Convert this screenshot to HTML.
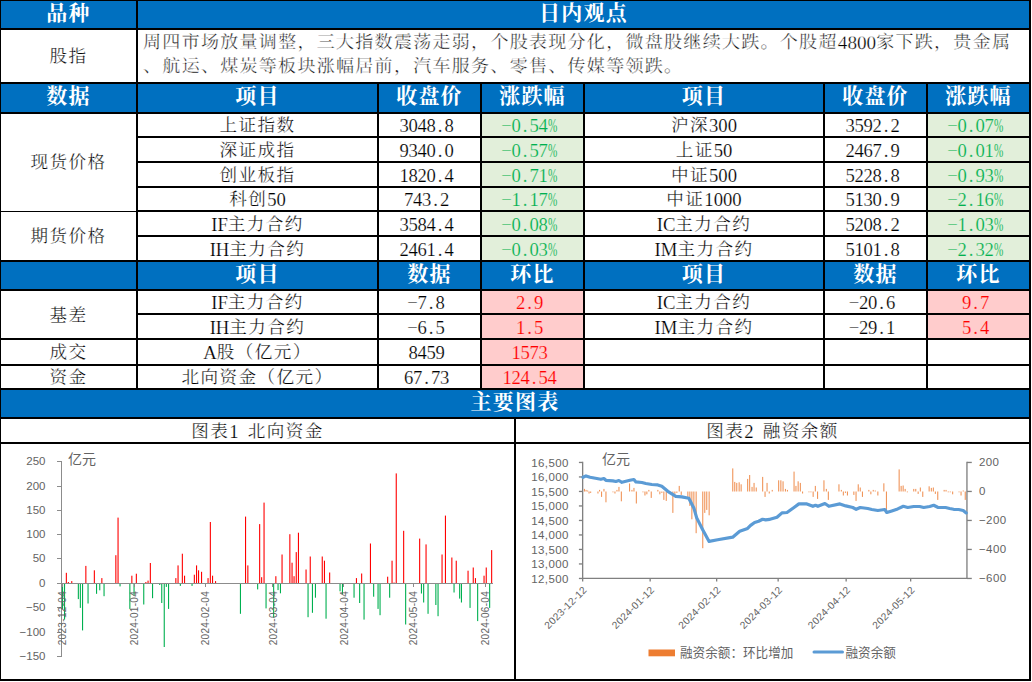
<!DOCTYPE html>
<html lang="zh-CN"><head><meta charset="utf-8"><title>日内观点</title><style>
html,body{margin:0;padding:0;background:#fff}
body{width:1032px;height:682px;position:relative;overflow:hidden;font-family:"Liberation Serif","Noto Serif CJK SC",serif;color:#000}
.b{position:absolute}
.t{position:absolute;display:flex;align-items:center;justify-content:center;font-size:18.67px;white-space:nowrap;line-height:1;-webkit-text-stroke:0.2px #fff}
.t>span{position:relative;top:1.5px}
.c{display:inline-block;position:relative;top:-0.05em;line-height:1;white-space:nowrap;text-align:center;letter-spacing:0.08em;font-family:"Liberation Serif","Noto Serif CJK SC",serif}
.t.h .c{letter-spacing:0.057em}
.p .c{letter-spacing:0.072em}
.t.h{color:#fff;font-weight:bold;font-size:21.33px;-webkit-text-stroke:0}
.t.h>span{top:0.1px}
.t.g{color:#00B050;-webkit-text-stroke:0.2px #E2EFDA}.t.r{color:#FF0000;-webkit-text-stroke:0.2px #FFCCCC}
.t.n span{padding-right:6px;letter-spacing:-0.33px}
.t.n i{display:inline-block;width:9px;text-align:center;font-style:normal;letter-spacing:0}
.t.n i.m{text-indent:-1.2px}
.t.n i.pc{transform:scaleX(0.6);transform-origin:0 50%;text-align:left}
.p{position:absolute;font-size:19.2px;line-height:23.5px;white-space:nowrap;text-rendering:geometricPrecision;-webkit-text-stroke:0.3px #fff}
.ch{position:absolute;left:0;top:0}
.ch text{font-family:"Liberation Sans","Noto Sans CJK SC",sans-serif}
.ax text{font-size:11.5px}
.ax text.xl{font-size:10px;letter-spacing:0.32px}
.ax text.xr{font-size:10.2px;letter-spacing:0.3px}
.ax text.ls{letter-spacing:0.4px}
</style></head><body>
<div class="b" style="left:0px;top:0px;width:1031px;height:28px;background:#0070C0"></div>
<div class="b" style="left:0px;top:84px;width:1031px;height:28px;background:#0070C0"></div>
<div class="b" style="left:0px;top:262px;width:1031px;height:27px;background:#0070C0"></div>
<div class="b" style="left:0px;top:390px;width:1031px;height:27px;background:#0070C0"></div>
<div class="b" style="left:482px;top:114px;width:101px;height:22px;background:#E2EFDA"></div>
<div class="b" style="left:928px;top:114px;width:101px;height:22px;background:#E2EFDA"></div>
<div class="b" style="left:482px;top:138px;width:101px;height:23px;background:#E2EFDA"></div>
<div class="b" style="left:928px;top:138px;width:101px;height:23px;background:#E2EFDA"></div>
<div class="b" style="left:482px;top:163px;width:101px;height:23px;background:#E2EFDA"></div>
<div class="b" style="left:928px;top:163px;width:101px;height:23px;background:#E2EFDA"></div>
<div class="b" style="left:482px;top:188px;width:101px;height:22px;background:#E2EFDA"></div>
<div class="b" style="left:928px;top:188px;width:101px;height:22px;background:#E2EFDA"></div>
<div class="b" style="left:482px;top:212px;width:101px;height:23px;background:#E2EFDA"></div>
<div class="b" style="left:928px;top:212px;width:101px;height:23px;background:#E2EFDA"></div>
<div class="b" style="left:482px;top:237px;width:101px;height:23px;background:#E2EFDA"></div>
<div class="b" style="left:928px;top:237px;width:101px;height:23px;background:#E2EFDA"></div>
<div class="b" style="left:482px;top:291px;width:101px;height:22px;background:#FFCCCC"></div>
<div class="b" style="left:482px;top:315px;width:101px;height:23px;background:#FFCCCC"></div>
<div class="b" style="left:482px;top:340px;width:101px;height:24px;background:#FFCCCC"></div>
<div class="b" style="left:482px;top:366px;width:101px;height:22px;background:#FFCCCC"></div>
<div class="b" style="left:928px;top:291px;width:101px;height:22px;background:#FFCCCC"></div>
<div class="b" style="left:928px;top:315px;width:101px;height:23px;background:#FFCCCC"></div>
<div class="b" style="left:0px;top:0px;width:1031px;height:1px;background:#000"></div>
<div class="b" style="left:0px;top:0px;width:1px;height:681px;background:#000"></div>
<div class="b" style="left:1029px;top:0px;width:2px;height:681px;background:#000"></div>
<div class="b" style="left:0px;top:28px;width:1031px;height:2px;background:#000"></div>
<div class="b" style="left:0px;top:82px;width:1031px;height:2px;background:#000"></div>
<div class="b" style="left:0px;top:112px;width:1031px;height:2px;background:#000"></div>
<div class="b" style="left:0px;top:260px;width:1031px;height:2px;background:#000"></div>
<div class="b" style="left:0px;top:289px;width:1031px;height:2px;background:#000"></div>
<div class="b" style="left:0px;top:338px;width:1031px;height:2px;background:#000"></div>
<div class="b" style="left:0px;top:364px;width:1031px;height:2px;background:#000"></div>
<div class="b" style="left:0px;top:388px;width:1031px;height:2px;background:#000"></div>
<div class="b" style="left:0px;top:417px;width:1031px;height:2px;background:#000"></div>
<div class="b" style="left:0px;top:442px;width:1031px;height:2px;background:#000"></div>
<div class="b" style="left:0px;top:679px;width:1031px;height:2px;background:#000"></div>
<div class="b" style="left:136px;top:136px;width:895px;height:2px;background:#000"></div>
<div class="b" style="left:136px;top:161px;width:895px;height:2px;background:#000"></div>
<div class="b" style="left:136px;top:186px;width:895px;height:2px;background:#000"></div>
<div class="b" style="left:136px;top:235px;width:895px;height:2px;background:#000"></div>
<div class="b" style="left:136px;top:313px;width:895px;height:2px;background:#000"></div>
<div class="b" style="left:0px;top:211px;width:136px;height:1px;background:#000"></div>
<div class="b" style="left:136px;top:210px;width:895px;height:2px;background:#000"></div>
<div class="b" style="left:136px;top:0px;width:2px;height:390px;background:#000"></div>
<div class="b" style="left:377px;top:82px;width:2px;height:308px;background:#000"></div>
<div class="b" style="left:480px;top:82px;width:2px;height:308px;background:#000"></div>
<div class="b" style="left:583px;top:82px;width:2px;height:308px;background:#000"></div>
<div class="b" style="left:823px;top:82px;width:2px;height:308px;background:#000"></div>
<div class="b" style="left:926px;top:82px;width:2px;height:308px;background:#000"></div>
<div class="b" style="left:514px;top:417px;width:2px;height:264px;background:#000"></div>
<div class="t h" style="left:1px;top:1px;width:135px;height:27px"><span><span class="c" style="width:44.40px;font-size:21.00px">品种</span></span></div>
<div class="t h" style="left:138px;top:1px;width:891px;height:27px"><span><span class="c" style="width:88.80px;font-size:21.00px">日内观点</span></span></div>
<div class="t " style="left:1px;top:30px;width:135px;height:52px"><span><span class="c" style="width:38.00px;font-size:17.60px">股指</span></span></div>
<div class="p" style="left:143px;top:32px;width:880px"><span class="c" style="width:694.80px;font-size:18.00px">周四市场放量调整，三大指数震荡走弱，个股表现分化，微盘股继续大跌。个股超</span>4800<span class="c" style="width:135.10px;font-size:18.00px">家下跌，贵金属</span><br><span class="c" style="width:540.40px;font-size:18.00px">、航运、煤炭等板块涨幅居前，汽车服务、零售、传媒等领跌。</span></div>
<div class="t h" style="left:1px;top:84px;width:135px;height:28px"><span><span class="c" style="width:44.40px;font-size:21.00px">数据</span></span></div>
<div class="t h" style="left:138px;top:84px;width:239px;height:28px"><span><span class="c" style="width:44.40px;font-size:21.00px">项目</span></span></div>
<div class="t h" style="left:379px;top:84px;width:101px;height:28px"><span><span class="c" style="width:66.60px;font-size:21.00px">收盘价</span></span></div>
<div class="t h" style="left:482px;top:84px;width:101px;height:28px"><span><span class="c" style="width:66.60px;font-size:21.00px">涨跌幅</span></span></div>
<div class="t h" style="left:585px;top:84px;width:238px;height:28px"><span><span class="c" style="width:44.40px;font-size:21.00px">项目</span></span></div>
<div class="t h" style="left:825px;top:84px;width:101px;height:28px"><span><span class="c" style="width:66.60px;font-size:21.00px">收盘价</span></span></div>
<div class="t h" style="left:928px;top:84px;width:101px;height:28px"><span><span class="c" style="width:66.60px;font-size:21.00px">涨跌幅</span></span></div>
<div class="t h" style="left:138px;top:262px;width:239px;height:27px"><span><span class="c" style="width:44.40px;font-size:21.00px">项目</span></span></div>
<div class="t h" style="left:379px;top:262px;width:101px;height:27px"><span><span class="c" style="width:44.40px;font-size:21.00px">数据</span></span></div>
<div class="t h" style="left:482px;top:262px;width:101px;height:27px"><span><span class="c" style="width:44.40px;font-size:21.00px">环比</span></span></div>
<div class="t h" style="left:585px;top:262px;width:238px;height:27px"><span><span class="c" style="width:44.40px;font-size:21.00px">项目</span></span></div>
<div class="t h" style="left:825px;top:262px;width:101px;height:27px"><span><span class="c" style="width:44.40px;font-size:21.00px">数据</span></span></div>
<div class="t h" style="left:928px;top:262px;width:101px;height:27px"><span><span class="c" style="width:44.40px;font-size:21.00px">环比</span></span></div>
<div class="t " style="left:1px;top:114px;width:135px;height:96px"><span><span class="c" style="width:76.00px;font-size:17.60px">现货价格</span></span></div>
<div class="t " style="left:1px;top:212px;width:135px;height:48px"><span><span class="c" style="width:76.00px;font-size:17.60px">期货价格</span></span></div>
<div class="t " style="left:1px;top:291px;width:135px;height:47px"><span><span class="c" style="width:38.00px;font-size:17.60px">基差</span></span></div>
<div class="t " style="left:1px;top:340px;width:135px;height:24px"><span><span class="c" style="width:38.00px;font-size:17.60px">成交</span></span></div>
<div class="t " style="left:1px;top:366px;width:135px;height:22px"><span><span class="c" style="width:38.00px;font-size:17.60px">资金</span></span></div>
<div class="t " style="left:138px;top:114px;width:239px;height:22px"><span><span class="c" style="width:76.00px;font-size:17.60px">上证指数</span></span></div>
<div class="t n" style="left:379px;top:114px;width:101px;height:22px"><span>3048<i class="d">.</i>8</span></div>
<div class="t n g" style="left:482px;top:114px;width:101px;height:22px"><span><i class="m">−</i>0<i class="d">.</i>54<i class="pc">%</i></span></div>
<div class="t " style="left:585px;top:114px;width:238px;height:22px"><span><span class="c" style="width:38.00px;font-size:17.60px">沪深</span>300</span></div>
<div class="t n" style="left:825px;top:114px;width:101px;height:22px"><span>3592<i class="d">.</i>2</span></div>
<div class="t n g" style="left:928px;top:114px;width:101px;height:22px"><span><i class="m">−</i>0<i class="d">.</i>07<i class="pc">%</i></span></div>
<div class="t " style="left:138px;top:138px;width:239px;height:23px"><span><span class="c" style="width:76.00px;font-size:17.60px">深证成指</span></span></div>
<div class="t n" style="left:379px;top:138px;width:101px;height:23px"><span>9340<i class="d">.</i>0</span></div>
<div class="t n g" style="left:482px;top:138px;width:101px;height:23px"><span><i class="m">−</i>0<i class="d">.</i>57<i class="pc">%</i></span></div>
<div class="t " style="left:585px;top:138px;width:238px;height:23px"><span><span class="c" style="width:38.00px;font-size:17.60px">上证</span>50</span></div>
<div class="t n" style="left:825px;top:138px;width:101px;height:23px"><span>2467<i class="d">.</i>9</span></div>
<div class="t n g" style="left:928px;top:138px;width:101px;height:23px"><span><i class="m">−</i>0<i class="d">.</i>01<i class="pc">%</i></span></div>
<div class="t " style="left:138px;top:163px;width:239px;height:23px"><span><span class="c" style="width:76.00px;font-size:17.60px">创业板指</span></span></div>
<div class="t n" style="left:379px;top:163px;width:101px;height:23px"><span>1820<i class="d">.</i>4</span></div>
<div class="t n g" style="left:482px;top:163px;width:101px;height:23px"><span><i class="m">−</i>0<i class="d">.</i>71<i class="pc">%</i></span></div>
<div class="t " style="left:585px;top:163px;width:238px;height:23px"><span><span class="c" style="width:38.00px;font-size:17.60px">中证</span>500</span></div>
<div class="t n" style="left:825px;top:163px;width:101px;height:23px"><span>5228<i class="d">.</i>8</span></div>
<div class="t n g" style="left:928px;top:163px;width:101px;height:23px"><span><i class="m">−</i>0<i class="d">.</i>93<i class="pc">%</i></span></div>
<div class="t " style="left:138px;top:188px;width:239px;height:22px"><span><span class="c" style="width:38.00px;font-size:17.60px">科创</span>50</span></div>
<div class="t n" style="left:379px;top:188px;width:101px;height:22px"><span>743<i class="d">.</i>2</span></div>
<div class="t n g" style="left:482px;top:188px;width:101px;height:22px"><span><i class="m">−</i>1<i class="d">.</i>17<i class="pc">%</i></span></div>
<div class="t " style="left:585px;top:188px;width:238px;height:22px"><span><span class="c" style="width:38.00px;font-size:17.60px">中证</span>1000</span></div>
<div class="t n" style="left:825px;top:188px;width:101px;height:22px"><span>5130<i class="d">.</i>9</span></div>
<div class="t n g" style="left:928px;top:188px;width:101px;height:22px"><span><i class="m">−</i>2<i class="d">.</i>16<i class="pc">%</i></span></div>
<div class="t " style="left:138px;top:212px;width:239px;height:23px"><span>IF<span class="c" style="width:76.00px;font-size:17.60px">主力合约</span></span></div>
<div class="t n" style="left:379px;top:212px;width:101px;height:23px"><span>3584<i class="d">.</i>4</span></div>
<div class="t n g" style="left:482px;top:212px;width:101px;height:23px"><span><i class="m">−</i>0<i class="d">.</i>08<i class="pc">%</i></span></div>
<div class="t " style="left:585px;top:212px;width:238px;height:23px"><span>IC<span class="c" style="width:76.00px;font-size:17.60px">主力合约</span></span></div>
<div class="t n" style="left:825px;top:212px;width:101px;height:23px"><span>5208<i class="d">.</i>2</span></div>
<div class="t n g" style="left:928px;top:212px;width:101px;height:23px"><span><i class="m">−</i>1<i class="d">.</i>03<i class="pc">%</i></span></div>
<div class="t " style="left:138px;top:237px;width:239px;height:23px"><span>IH<span class="c" style="width:76.00px;font-size:17.60px">主力合约</span></span></div>
<div class="t n" style="left:379px;top:237px;width:101px;height:23px"><span>2461<i class="d">.</i>4</span></div>
<div class="t n g" style="left:482px;top:237px;width:101px;height:23px"><span><i class="m">−</i>0<i class="d">.</i>03<i class="pc">%</i></span></div>
<div class="t " style="left:585px;top:237px;width:238px;height:23px"><span>IM<span class="c" style="width:76.00px;font-size:17.60px">主力合约</span></span></div>
<div class="t n" style="left:825px;top:237px;width:101px;height:23px"><span>5101<i class="d">.</i>8</span></div>
<div class="t n g" style="left:928px;top:237px;width:101px;height:23px"><span><i class="m">−</i>2<i class="d">.</i>32<i class="pc">%</i></span></div>
<div class="t " style="left:138px;top:291px;width:239px;height:22px"><span>IF<span class="c" style="width:76.00px;font-size:17.60px">主力合约</span></span></div>
<div class="t n" style="left:379px;top:291px;width:101px;height:22px"><span><i class="m">−</i>7<i class="d">.</i>8</span></div>
<div class="t n r" style="left:482px;top:291px;width:101px;height:22px"><span>2<i class="d">.</i>9</span></div>
<div class="t " style="left:585px;top:291px;width:238px;height:22px"><span>IC<span class="c" style="width:76.00px;font-size:17.60px">主力合约</span></span></div>
<div class="t n" style="left:825px;top:291px;width:101px;height:22px"><span><i class="m">−</i>20<i class="d">.</i>6</span></div>
<div class="t n r" style="left:928px;top:291px;width:101px;height:22px"><span>9<i class="d">.</i>7</span></div>
<div class="t " style="left:138px;top:315px;width:239px;height:23px"><span>IH<span class="c" style="width:76.00px;font-size:17.60px">主力合约</span></span></div>
<div class="t n" style="left:379px;top:315px;width:101px;height:23px"><span><i class="m">−</i>6<i class="d">.</i>5</span></div>
<div class="t n r" style="left:482px;top:315px;width:101px;height:23px"><span>1<i class="d">.</i>5</span></div>
<div class="t " style="left:585px;top:315px;width:238px;height:23px"><span>IM<span class="c" style="width:76.00px;font-size:17.60px">主力合约</span></span></div>
<div class="t n" style="left:825px;top:315px;width:101px;height:23px"><span><i class="m">−</i>29<i class="d">.</i>1</span></div>
<div class="t n r" style="left:928px;top:315px;width:101px;height:23px"><span>5<i class="d">.</i>4</span></div>
<div class="t " style="left:138px;top:340px;width:239px;height:24px"><span>A<span class="c" style="width:95.00px;font-size:17.60px">股（亿元）</span></span></div>
<div class="t n" style="left:379px;top:340px;width:101px;height:24px"><span>8459</span></div>
<div class="t n r" style="left:482px;top:340px;width:101px;height:24px"><span>1573</span></div>
<div class="t " style="left:138px;top:366px;width:239px;height:22px"><span><span class="c" style="width:152.00px;font-size:17.60px">北向资金（亿元）</span></span></div>
<div class="t n" style="left:379px;top:366px;width:101px;height:22px"><span>67<i class="d">.</i>73</span></div>
<div class="t n r" style="left:482px;top:366px;width:101px;height:22px"><span>124<i class="d">.</i>54</span></div>
<div class="t h" style="left:1px;top:390px;width:1028px;height:27px"><span><span class="c" style="width:88.80px;font-size:21.00px">主要图表</span></span></div>
<div class="t ti" style="left:1px;top:419px;width:513px;height:23px"><span><span class="c" style="width:38.00px;font-size:17.60px">图表</span>1&ensp;<span class="c" style="width:76.00px;font-size:17.60px">北向资金</span></span></div>
<div class="t ti" style="left:516px;top:419px;width:513px;height:23px"><span><span class="c" style="width:38.00px;font-size:17.60px">图表</span>2&ensp;<span class="c" style="width:76.00px;font-size:17.60px">融资余额</span></span></div>
<svg class="ch" width="1032" height="682" viewBox="0 0 1032 682">
<g fill="#ff0000">
<rect x="65.8" y="572.8" width="1.1" height="10.7"/>
<rect x="67.8" y="582.0" width="1.1" height="1.5"/>
<rect x="71.2" y="581.1" width="1.1" height="2.4"/>
<rect x="85.3" y="565.9" width="1.1" height="17.6"/>
<rect x="93.8" y="570.3" width="1.1" height="13.2"/>
<rect x="101.3" y="578.1" width="1.1" height="5.4"/>
<rect x="115.3" y="555.2" width="1.1" height="28.3"/>
<rect x="117.5" y="517.6" width="1.1" height="65.9"/>
<rect x="131.3" y="575.7" width="1.1" height="7.8"/>
<rect x="135.8" y="573.7" width="1.1" height="9.8"/>
<rect x="145.3" y="582.0" width="1.1" height="1.5"/>
<rect x="147.5" y="580.6" width="1.1" height="2.9"/>
<rect x="149.8" y="563.0" width="1.1" height="20.5"/>
<rect x="175.3" y="578.1" width="1.1" height="5.4"/>
<rect x="177.5" y="565.4" width="1.1" height="18.1"/>
<rect x="181.8" y="553.7" width="1.1" height="29.8"/>
<rect x="184.0" y="575.7" width="1.1" height="7.8"/>
<rect x="193.8" y="574.7" width="1.1" height="8.8"/>
<rect x="196.0" y="565.4" width="1.1" height="18.1"/>
<rect x="198.0" y="570.3" width="1.1" height="13.2"/>
<rect x="201.0" y="571.8" width="1.1" height="11.7"/>
<rect x="207.5" y="578.1" width="1.1" height="5.4"/>
<rect x="209.8" y="522.0" width="1.1" height="61.5"/>
<rect x="212.0" y="575.7" width="1.1" height="7.8"/>
<rect x="215.0" y="581.1" width="1.1" height="2.4"/>
<rect x="245.0" y="516.6" width="1.1" height="66.9"/>
<rect x="247.3" y="565.4" width="1.1" height="18.1"/>
<rect x="259.1" y="524.1" width="1.1" height="59.4"/>
<rect x="261.1" y="577.2" width="1.1" height="6.3"/>
<rect x="263.5" y="502.6" width="1.1" height="80.9"/>
<rect x="275.3" y="576.2" width="1.1" height="7.3"/>
<rect x="281.5" y="554.5" width="1.1" height="29.0"/>
<rect x="289.3" y="534.2" width="1.1" height="49.3"/>
<rect x="291.5" y="562.7" width="1.1" height="20.8"/>
<rect x="293.5" y="576.2" width="1.1" height="7.3"/>
<rect x="295.7" y="552.1" width="1.1" height="31.4"/>
<rect x="297.9" y="532.7" width="1.1" height="50.8"/>
<rect x="305.5" y="569.5" width="1.1" height="14.0"/>
<rect x="309.7" y="556.5" width="1.1" height="27.0"/>
<rect x="321.7" y="556.5" width="1.1" height="27.0"/>
<rect x="323.9" y="560.7" width="1.1" height="22.8"/>
<rect x="329.1" y="572.5" width="1.1" height="11.0"/>
<rect x="355.9" y="578.1" width="1.1" height="5.4"/>
<rect x="361.1" y="573.5" width="1.1" height="10.0"/>
<rect x="369.9" y="543.5" width="1.1" height="40.0"/>
<rect x="387.1" y="576.7" width="1.1" height="6.8"/>
<rect x="391.5" y="560.7" width="1.1" height="22.8"/>
<rect x="393.5" y="582.5" width="1.1" height="1.0"/>
<rect x="395.7" y="473.4" width="1.1" height="110.1"/>
<rect x="403.1" y="530.8" width="1.1" height="52.7"/>
<rect x="419.1" y="538.6" width="1.1" height="44.9"/>
<rect x="425.5" y="544.4" width="1.1" height="39.1"/>
<rect x="441.5" y="554.5" width="1.1" height="29.0"/>
<rect x="444.9" y="515.6" width="1.1" height="67.9"/>
<rect x="451.3" y="557.5" width="1.1" height="26.0"/>
<rect x="455.7" y="560.7" width="1.1" height="22.8"/>
<rect x="467.5" y="570.7" width="1.1" height="12.8"/>
<rect x="472.7" y="567.5" width="1.1" height="16.0"/>
<rect x="474.9" y="578.1" width="1.1" height="5.4"/>
<rect x="483.5" y="575.7" width="1.1" height="7.8"/>
<rect x="485.7" y="567.5" width="1.1" height="16.0"/>
<rect x="491.1" y="550.1" width="1.1" height="33.4"/>
</g><g fill="#00b050">
<rect x="62.0" y="583.5" width="1.1" height="25.9"/>
<rect x="64.0" y="583.5" width="1.1" height="36.1"/>
<rect x="77.8" y="583.5" width="1.1" height="15.6"/>
<rect x="79.8" y="583.5" width="1.1" height="24.4"/>
<rect x="82.0" y="583.5" width="1.1" height="46.9"/>
<rect x="87.5" y="583.5" width="1.1" height="20.0"/>
<rect x="96.0" y="583.5" width="1.1" height="10.3"/>
<rect x="99.2" y="583.5" width="1.1" height="6.8"/>
<rect x="103.5" y="583.5" width="1.1" height="12.7"/>
<rect x="119.5" y="583.5" width="1.1" height="2.9"/>
<rect x="129.3" y="583.5" width="1.1" height="25.4"/>
<rect x="133.5" y="583.5" width="1.1" height="12.2"/>
<rect x="143.2" y="583.5" width="1.1" height="21.0"/>
<rect x="152.0" y="583.5" width="1.1" height="14.7"/>
<rect x="159.2" y="583.5" width="1.1" height="1.5"/>
<rect x="161.2" y="583.5" width="1.1" height="19.5"/>
<rect x="163.7" y="583.5" width="1.1" height="63.5"/>
<rect x="165.8" y="583.5" width="1.1" height="3.4"/>
<rect x="168.0" y="583.5" width="1.1" height="25.4"/>
<rect x="179.8" y="583.5" width="1.1" height="2.4"/>
<rect x="191.5" y="583.5" width="1.1" height="2.4"/>
<rect x="239.9" y="583.5" width="1.1" height="30.3"/>
<rect x="257.1" y="583.5" width="1.1" height="5.9"/>
<rect x="265.5" y="583.5" width="1.1" height="24.9"/>
<rect x="273.1" y="583.5" width="1.1" height="34.2"/>
<rect x="277.5" y="583.5" width="1.1" height="6.6"/>
<rect x="279.9" y="583.5" width="1.1" height="9.8"/>
<rect x="307.5" y="583.5" width="1.1" height="33.7"/>
<rect x="311.9" y="583.5" width="1.1" height="29.3"/>
<rect x="314.9" y="583.5" width="1.1" height="14.2"/>
<rect x="325.5" y="583.5" width="1.1" height="35.2"/>
<rect x="339.5" y="583.5" width="1.1" height="7.8"/>
<rect x="341.9" y="583.5" width="1.1" height="10.7"/>
<rect x="353.5" y="583.5" width="1.1" height="14.2"/>
<rect x="359.1" y="583.5" width="1.1" height="19.5"/>
<rect x="363.5" y="583.5" width="1.1" height="36.1"/>
<rect x="373.1" y="583.5" width="1.1" height="13.2"/>
<rect x="377.5" y="583.5" width="1.1" height="25.4"/>
<rect x="379.5" y="583.5" width="1.1" height="31.7"/>
<rect x="389.1" y="583.5" width="1.1" height="14.2"/>
<rect x="405.1" y="583.5" width="1.1" height="41.0"/>
<rect x="420.9" y="583.5" width="1.1" height="10.0"/>
<rect x="423.1" y="583.5" width="1.1" height="19.0"/>
<rect x="427.5" y="583.5" width="1.1" height="30.3"/>
<rect x="435.3" y="583.5" width="1.1" height="21.5"/>
<rect x="437.5" y="583.5" width="1.1" height="32.7"/>
<rect x="453.5" y="583.5" width="1.1" height="9.0"/>
<rect x="459.1" y="583.5" width="1.1" height="15.1"/>
<rect x="460.9" y="583.5" width="1.1" height="19.0"/>
<rect x="469.5" y="583.5" width="1.1" height="24.4"/>
<rect x="477.1" y="583.5" width="1.1" height="37.6"/>
<rect x="489.1" y="583.5" width="1.1" height="24.4"/>
</g>
<g stroke="#8c8c8c" stroke-width="1" fill="none" shape-rendering="crispEdges">
<path d="M61.5 461V657M61 583.5H493"/>
<path d="M57 461.5H61"/>
<path d="M57 486.5H61"/>
<path d="M57 510.5H61"/>
<path d="M57 534.5H61"/>
<path d="M57 558.5H61"/>
<path d="M57 583.5H61"/>
<path d="M57 607.5H61"/>
<path d="M57 632.5H61"/>
<path d="M57 656.5H61"/>
<path d="M62.5 584V587"/>
<path d="M134.5 584V587"/>
<path d="M205.5 584V587"/>
<path d="M272.5 584V587"/>
<path d="M343.5 584V587"/>
<path d="M413.5 584V587"/>
<path d="M485.5 584V587"/>
</g>
<g class="ax" fill="#636363" text-anchor="end">
<text x="45.5" y="465.2">250</text>
<text x="45.5" y="490.2">200</text>
<text x="45.5" y="514.2">150</text>
<text x="45.5" y="538.2">100</text>
<text x="45.5" y="562.2">50</text>
<text x="45.5" y="587.2">0</text>
<text x="45.5" y="611.2">−50</text>
<text x="45.5" y="636.2">−100</text>
<text x="45.5" y="660.2">−150</text>
</g><g class="ax" fill="#636363">
<text class="xl" transform="translate(65.9,645.3) rotate(-90)">2023-12-04</text>
<text class="xl" transform="translate(137.9,645.3) rotate(-90)">2024-01-04</text>
<text class="xl" transform="translate(208.9,645.3) rotate(-90)">2024-02-04</text>
<text class="xl" transform="translate(276.9,645.3) rotate(-90)">2024-03-04</text>
<text class="xl" transform="translate(347.9,645.3) rotate(-90)">2024-04-04</text>
<text class="xl" transform="translate(416.9,645.3) rotate(-90)">2024-05-04</text>
<text class="xl" transform="translate(488.9,645.3) rotate(-90)">2024-06-04</text>
</g>
<text x="68.0" y="464.0" font-size="14.0" fill="#636363">亿元</text>
<g fill="#f0955a">
<rect x="583.9" y="488.9" width="1.1" height="2.6"/>
<rect x="585.5" y="489.9" width="1.1" height="1.6"/>
<rect x="587.1" y="490.5" width="1.1" height="1.0"/>
<rect x="588.5" y="491.5" width="1.1" height="2.0"/>
<rect x="590.1" y="491.5" width="1.1" height="1.4"/>
<rect x="597.4" y="491.5" width="1.1" height="2.0"/>
<rect x="599.0" y="489.9" width="1.1" height="1.6"/>
<rect x="601.0" y="491.5" width="1.1" height="5.4"/>
<rect x="603.4" y="488.9" width="1.1" height="2.6"/>
<rect x="605.4" y="491.5" width="1.1" height="10.8"/>
<rect x="612.4" y="491.5" width="1.1" height="0.8"/>
<rect x="614.4" y="491.5" width="1.1" height="2.0"/>
<rect x="616.4" y="489.9" width="1.1" height="1.6"/>
<rect x="618.4" y="486.9" width="1.1" height="4.6"/>
<rect x="620.8" y="491.5" width="1.1" height="9.8"/>
<rect x="629.0" y="483.5" width="1.1" height="8.0"/>
<rect x="631.4" y="489.9" width="1.1" height="1.6"/>
<rect x="633.4" y="487.9" width="1.1" height="3.6"/>
<rect x="635.8" y="491.5" width="1.1" height="12.0"/>
<rect x="642.4" y="491.5" width="1.1" height="0.8"/>
<rect x="644.4" y="491.5" width="1.1" height="4.0"/>
<rect x="646.3" y="491.5" width="1.1" height="2.8"/>
<rect x="648.3" y="489.9" width="1.1" height="1.6"/>
<rect x="650.7" y="491.5" width="1.1" height="6.4"/>
<rect x="657.3" y="489.9" width="1.1" height="1.6"/>
<rect x="659.3" y="491.5" width="1.1" height="2.8"/>
<rect x="661.3" y="491.5" width="1.1" height="1.4"/>
<rect x="663.3" y="491.5" width="1.1" height="8.4"/>
<rect x="665.7" y="491.5" width="1.1" height="9.4"/>
<rect x="672.3" y="491.5" width="1.1" height="21.4"/>
<rect x="674.3" y="491.5" width="1.1" height="2.4"/>
<rect x="676.3" y="491.5" width="1.1" height="1.4"/>
<rect x="678.7" y="485.9" width="1.1" height="5.6"/>
<rect x="680.7" y="491.5" width="1.1" height="3.4"/>
<rect x="687.3" y="491.5" width="1.1" height="5.4"/>
<rect x="689.3" y="491.5" width="1.1" height="14.4"/>
<rect x="691.3" y="491.5" width="1.1" height="27.8"/>
<rect x="693.3" y="491.5" width="1.1" height="18.4"/>
<rect x="695.6" y="491.5" width="1.1" height="41.7"/>
<rect x="702.2" y="491.5" width="1.1" height="56.7"/>
<rect x="704.2" y="491.5" width="1.1" height="21.4"/>
<rect x="706.2" y="491.5" width="1.1" height="18.4"/>
<rect x="708.6" y="491.5" width="1.1" height="23.8"/>
<rect x="732.2" y="468.4" width="1.1" height="23.1"/>
<rect x="734.2" y="481.9" width="1.1" height="9.6"/>
<rect x="736.2" y="482.9" width="1.1" height="8.6"/>
<rect x="738.6" y="482.3" width="1.1" height="9.2"/>
<rect x="740.6" y="484.3" width="1.1" height="7.2"/>
<rect x="747.1" y="478.9" width="1.1" height="12.6"/>
<rect x="749.1" y="475.0" width="1.1" height="16.5"/>
<rect x="751.5" y="486.9" width="1.1" height="4.6"/>
<rect x="753.5" y="482.9" width="1.1" height="8.6"/>
<rect x="755.7" y="487.5" width="1.1" height="4.0"/>
<rect x="762.1" y="476.9" width="1.1" height="14.6"/>
<rect x="764.5" y="491.5" width="1.1" height="5.4"/>
<rect x="766.5" y="482.9" width="1.1" height="8.6"/>
<rect x="768.7" y="491.5" width="1.1" height="2.0"/>
<rect x="771.7" y="489.9" width="1.1" height="1.6"/>
<rect x="778.1" y="480.3" width="1.1" height="11.2"/>
<rect x="780.3" y="480.3" width="1.1" height="11.2"/>
<rect x="782.5" y="481.3" width="1.1" height="10.2"/>
<rect x="784.9" y="488.9" width="1.1" height="2.6"/>
<rect x="786.9" y="489.9" width="1.1" height="1.6"/>
<rect x="793.5" y="471.6" width="1.1" height="19.9"/>
<rect x="795.4" y="485.9" width="1.1" height="5.6"/>
<rect x="797.6" y="481.3" width="1.1" height="10.2"/>
<rect x="799.8" y="482.9" width="1.1" height="8.6"/>
<rect x="802.0" y="491.5" width="1.1" height="2.0"/>
<rect x="808.4" y="491.5" width="1.1" height="0.8"/>
<rect x="810.4" y="491.5" width="1.1" height="0.8"/>
<rect x="812.6" y="491.5" width="1.1" height="5.4"/>
<rect x="814.8" y="485.9" width="1.1" height="5.6"/>
<rect x="817.0" y="491.5" width="1.1" height="7.4"/>
<rect x="823.4" y="480.3" width="1.1" height="11.2"/>
<rect x="825.8" y="488.9" width="1.1" height="2.6"/>
<rect x="827.8" y="491.5" width="1.1" height="8.4"/>
<rect x="838.4" y="484.3" width="1.1" height="7.2"/>
<rect x="840.8" y="489.9" width="1.1" height="1.6"/>
<rect x="842.8" y="491.5" width="1.1" height="4.0"/>
<rect x="844.9" y="491.5" width="1.1" height="1.4"/>
<rect x="846.9" y="491.5" width="1.1" height="4.0"/>
<rect x="853.3" y="491.5" width="1.1" height="3.4"/>
<rect x="855.5" y="491.5" width="1.1" height="9.4"/>
<rect x="857.7" y="484.3" width="1.1" height="7.2"/>
<rect x="859.7" y="487.5" width="1.1" height="4.0"/>
<rect x="861.9" y="491.5" width="1.1" height="5.4"/>
<rect x="868.3" y="489.9" width="1.1" height="1.6"/>
<rect x="870.3" y="491.5" width="1.1" height="2.8"/>
<rect x="872.7" y="489.9" width="1.1" height="1.6"/>
<rect x="874.7" y="490.5" width="1.1" height="1.0"/>
<rect x="877.3" y="491.5" width="1.1" height="4.0"/>
<rect x="883.3" y="483.3" width="1.1" height="8.2"/>
<rect x="885.9" y="491.5" width="1.1" height="18.4"/>
<rect x="898.6" y="469.4" width="1.1" height="22.1"/>
<rect x="900.6" y="485.9" width="1.1" height="5.6"/>
<rect x="902.6" y="485.5" width="1.1" height="6.0"/>
<rect x="904.6" y="488.9" width="1.1" height="2.6"/>
<rect x="906.8" y="491.5" width="1.1" height="0.8"/>
<rect x="913.2" y="488.9" width="1.1" height="2.6"/>
<rect x="915.2" y="488.9" width="1.1" height="2.6"/>
<rect x="917.6" y="491.5" width="1.1" height="2.4"/>
<rect x="919.8" y="487.5" width="1.1" height="4.0"/>
<rect x="922.2" y="491.5" width="1.1" height="5.4"/>
<rect x="928.6" y="486.3" width="1.1" height="5.2"/>
<rect x="930.8" y="487.9" width="1.1" height="3.6"/>
<rect x="932.8" y="487.5" width="1.1" height="4.0"/>
<rect x="934.8" y="491.5" width="1.1" height="2.4"/>
<rect x="937.2" y="491.5" width="1.1" height="8.4"/>
<rect x="943.6" y="489.9" width="1.1" height="1.6"/>
<rect x="945.5" y="489.9" width="1.1" height="1.6"/>
<rect x="947.7" y="491.5" width="1.1" height="0.8"/>
<rect x="949.7" y="491.5" width="1.1" height="0.8"/>
<rect x="952.1" y="491.5" width="1.1" height="2.8"/>
<rect x="958.5" y="491.5" width="1.1" height="0.8"/>
<rect x="960.5" y="491.5" width="1.1" height="4.0"/>
<rect x="962.7" y="490.5" width="1.1" height="1.0"/>
<rect x="964.7" y="491.5" width="1.1" height="8.4"/>
</g>
<g stroke="#808080" stroke-width="1.33" fill="none">
<path d="M582.65 461.8V579.1M582 578.45H967.6M966.95 461.8V579.1"/>
<path d="M578.9 462.45H582.6"/>
<path d="M578.9 476.95H582.6"/>
<path d="M578.9 491.45H582.6"/>
<path d="M578.9 505.95H582.6"/>
<path d="M578.9 520.45H582.6"/>
<path d="M578.9 534.95H582.6"/>
<path d="M578.9 549.45H582.6"/>
<path d="M578.9 563.95H582.6"/>
<path d="M578.9 578.45H582.6"/>
<path d="M967 462.45H971.8"/>
<path d="M967 491.45H971.8"/>
<path d="M967 520.45H971.8"/>
<path d="M967 549.45H971.8"/>
<path d="M967 578.45H971.8"/>
<path d="M582.65 579V581.5"/>
<path d="M650.15 579V581.5"/>
<path d="M716.65 579V581.5"/>
<path d="M778.15 579V581.5"/>
<path d="M846.15 579V581.5"/>
<path d="M910.65 579V581.5"/>
</g>
<polyline fill="none" stroke="#5b9bd5" stroke-width="3.2" stroke-linejoin="round" stroke-linecap="round" points="583.0,477.3 586.0,475.9 590.0,477.3 600.9,479.3 603.9,478.5 605.9,480.3 612.9,480.9 615.9,481.5 618.9,480.5 621.9,482.3 629.9,480.3 633.9,479.5 635.9,481.9 641.9,482.5 645.8,483.5 651.8,484.5 657.8,484.9 661.8,486.3 667.8,491.3 675.8,496.3 681.8,496.9 688.8,498.3 693.8,507.9 696.7,517.9 702.7,529.8 709.1,541.4 717.7,539.8 732.7,537.2 739.7,531.2 747.6,528.4 750.6,525.4 754.6,522.5 758.6,521.3 762.6,519.3 765.6,519.9 769.6,519.3 770.0,519.3 777.0,517.3 782.0,512.9 787.0,512.5 794.0,507.5 798.9,503.9 806.9,503.9 812.9,506.3 815.5,505.3 817.9,506.3 824.9,503.5 828.9,506.3 839.9,503.9 845.8,505.9 852.8,507.5 856.2,509.3 860.2,507.5 867.8,508.5 871.8,509.5 877.8,510.5 884.8,509.5 886.8,512.5 891.8,510.9 897.7,508.9 903.3,506.3 907.7,507.5 913.7,506.5 919.7,506.5 923.7,507.5 929.7,506.5 933.7,505.3 937.7,507.3 945.6,507.5 949.6,508.5 953.6,509.3 958.6,509.5 963.2,510.5 966.2,512.9"/>
<g class="ax" fill="#636363" text-anchor="end">
<text class="ls" x="568.8" y="466.5">16,500</text>
<text class="ls" x="568.8" y="481.0">16,000</text>
<text class="ls" x="568.8" y="495.5">15,500</text>
<text class="ls" x="568.8" y="510.0">15,000</text>
<text class="ls" x="568.8" y="524.5">14,500</text>
<text class="ls" x="568.8" y="539.0">14,000</text>
<text class="ls" x="568.8" y="553.5">13,500</text>
<text class="ls" x="568.8" y="568.0">13,000</text>
<text class="ls" x="568.8" y="582.5">12,500</text>
</g><g class="ax" fill="#636363">
<text class="ls" x="979" y="466.0">200</text>
<text class="ls" x="979" y="495.0">0</text>
<text class="ls" x="979" y="524.0">−200</text>
<text class="ls" x="979" y="553.0">−400</text>
<text class="ls" x="979" y="582.0">−600</text>
</g><g class="ax" fill="#636363" text-anchor="end">
<text class="xr" transform="translate(587.6,590.5) rotate(-45)">2023-12-12</text>
<text class="xr" transform="translate(655.1,590.5) rotate(-45)">2024-01-12</text>
<text class="xr" transform="translate(721.6,590.5) rotate(-45)">2024-02-12</text>
<text class="xr" transform="translate(783.1,590.5) rotate(-45)">2024-03-12</text>
<text class="xr" transform="translate(851.1,590.5) rotate(-45)">2024-04-12</text>
<text class="xr" transform="translate(915.6,590.5) rotate(-45)">2024-05-12</text>
</g>
<text x="602.0" y="464.0" font-size="14.0" fill="#636363">亿元</text>
<rect x="648.5" y="649.5" width="26.5" height="6.8" fill="#ed7d31"/>
<text x="680.0" y="656.6" font-size="12.6" fill="#636363">融资余额：环比增加</text>
<path d="M814 652H842.5" stroke="#5b9bd5" stroke-width="3" stroke-linecap="round"/>
<text x="845.5" y="656.6" font-size="12.6" fill="#636363">融资余额</text>
</svg>
</body></html>
